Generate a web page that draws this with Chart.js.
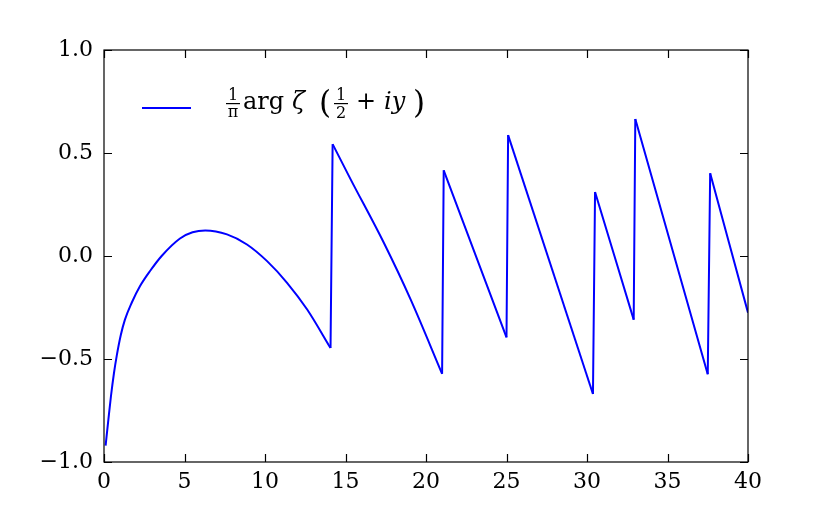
<!DOCTYPE html>
<html>
<head>
<meta charset="utf-8">
<script src="https://cdn.jsdelivr.net/npm/chart.js@4"></script>
<style>
  html, body { margin: 0; padding: 0; background: #fff; }
  #wrap { width: 831px; height: 514px; }
</style>
</head>
<body>
<div id="wrap"><canvas id="c" width="831" height="514"></canvas></div>
<script>
// values: y along the curve, x is the argument
const xs = [0.1, 0.27, 0.43, 0.62, 0.79, 1.04, 1.3, 1.72, 2.24, 2.86, 3.58, 4.72, 5.5, 6.29, 7.64, 8.88, 10.13, 11.37, 12.62, 14.07,
  14.2, 15.32, 17.38, 19.05, 21.0,
  21.1, 25.0,
  25.1, 30.37,
  30.5, 32.9,
  33.0, 37.5,
  37.65, 40.0];
const ys = [-0.92, -0.795, -0.682, -0.568, -0.485, -0.385, -0.309, -0.227, -0.146, -0.073, 0.0, 0.085, 0.115, 0.124, 0.105, 0.056, -0.025, -0.13, -0.26, -0.447,
  0.543, 0.372, 0.064, -0.212, -0.572,
  0.416, -0.395,
  0.587, -0.67,
  0.311, -0.309,
  0.665, -0.574,
  0.402, -0.275];
const xTicks = [0, 5, 10, 15, 20, 25, 30, 35, 40];
const yTicks = [-1.0, -0.5, 0.0, 0.5, 1.0];

const FONT = '"DejaVu Serif", serif';
const BLUE = '#0000ff';

function fmtY(v) {
  const s = Math.abs(v).toFixed(1);
  return v < 0 ? '\u2212' + s : s;
}

// split the curve into branches at the jumps (zeros of zeta)
const branches = [[]];
const jumps = [];
xs.forEach((x, i) => {
  if (i > 0 && ys[i] - ys[i - 1] > 0.5) {
    jumps.push({ x: xs[i - 1], y: ys[i - 1] }, { x: x, y: ys[i] }, { x: x, y: null });
    branches.push([]);
  }
  branches[branches.length - 1].push({ x: x, y: ys[i] });
});

const datasets = branches.map(b => ({
  data: b,
  borderColor: BLUE,
  borderWidth: 2,
  pointRadius: 0,
  cubicInterpolationMode: 'monotone',
  fill: false
}));
datasets.push({
  data: jumps,
  borderColor: BLUE,
  borderWidth: 2,
  pointRadius: 0,
  tension: 0,
  spanGaps: false,
  fill: false
});

// inward ticks on all four sides, the frame, and the legend
const framePlugin = {
  id: 'frame',
  afterDraw(chart) {
    const ctx = chart.ctx;
    const a = chart.chartArea;
    const sx = chart.scales.x, sy = chart.scales.y;
    ctx.save();
    ctx.strokeStyle = '#000';
    ctx.lineWidth = 1.2;
    ctx.strokeRect(a.left, a.top, a.right - a.left, a.bottom - a.top);
    ctx.beginPath();
    xTicks.forEach(v => {
      const p = Math.round(sx.getPixelForValue(v)) + 0.5;
      ctx.moveTo(p, a.bottom); ctx.lineTo(p, a.bottom - 8);
      ctx.moveTo(p, a.top); ctx.lineTo(p, a.top + 8);
    });
    yTicks.forEach(v => {
      const p = Math.round(sy.getPixelForValue(v)) + 0.5;
      ctx.moveTo(a.left, p); ctx.lineTo(a.left + 8, p);
      ctx.moveTo(a.right, p); ctx.lineTo(a.right - 8, p);
    });
    ctx.stroke();

    // legend
    const ly = a.top + 58;
    ctx.strokeStyle = BLUE;
    ctx.lineWidth = 2;
    ctx.beginPath();
    ctx.moveTo(a.left + 38, ly); ctx.lineTo(a.left + 87, ly);
    ctx.stroke();

    const L = a.left;
    const base = ly + 1;
    const barY = ly - 5;
    ctx.fillStyle = '#000';
    ctx.textBaseline = 'alphabetic';
    ctx.textAlign = 'center';
    // 1/pi
    ctx.font = '16px ' + FONT;
    ctx.fillText('1', L + 129, barY - 3);
    ctx.fillText('\u03c0', L + 129, barY + 14);
    ctx.fillRect(L + 122, barY, 14, 1.2);
    ctx.textAlign = 'left';
    ctx.font = '24px ' + FONT;
    ctx.fillText('arg', L + 139, base);
    ctx.font = 'italic 24px ' + FONT;
    ctx.fillText('\u03b6', L + 188, base);
    ctx.font = '31px ' + FONT;
    ctx.fillText('(', L + 215, base + 4);
    // 1/2
    ctx.textAlign = 'center';
    ctx.font = '16px ' + FONT;
    ctx.fillText('1', L + 237, barY - 3);
    ctx.fillText('2', L + 237, barY + 15);
    ctx.fillRect(L + 230, barY, 14, 1.2);
    ctx.textAlign = 'left';
    ctx.font = '24px ' + FONT;
    ctx.fillText('+', L + 252, base);
    ctx.font = 'italic 24px ' + FONT;
    ctx.fillText('iy', L + 280, base);
    ctx.font = '31px ' + FONT;
    ctx.fillText(')', L + 309, base + 4);
    ctx.restore();
  }
};

new Chart(document.getElementById('c'), {
  type: 'line',
  data: { datasets: datasets },
  options: {
    responsive: false,
    animation: false,
    layout: { padding: { top: 50, right: 83, left: 0, bottom: 0 } },
    plugins: { legend: { display: false }, tooltip: { enabled: false } },
    scales: {
      x: {
        type: 'linear',
        min: 0, max: 40,
        grid: { display: false, drawTicks: false },
        border: { display: false },
        afterBuildTicks: s => { s.ticks = xTicks.map(v => ({ value: v })); },
        afterFit: s => { s.height = 52; },
        ticks: { color: '#000', padding: 7, maxRotation: 0, font: { family: FONT, size: 22 } }
      },
      y: {
        min: -1, max: 1,
        grid: { display: false, drawTicks: false },
        border: { display: false },
        afterBuildTicks: s => { s.ticks = yTicks.map(v => ({ value: v })); },
        afterFit: s => { s.width = 104; },
        ticks: { color: '#000', padding: 11, callback: v => fmtY(v), font: { family: FONT, size: 22 } }
      }
    }
  },
  plugins: [framePlugin]
});
</script>
</body>
</html>
